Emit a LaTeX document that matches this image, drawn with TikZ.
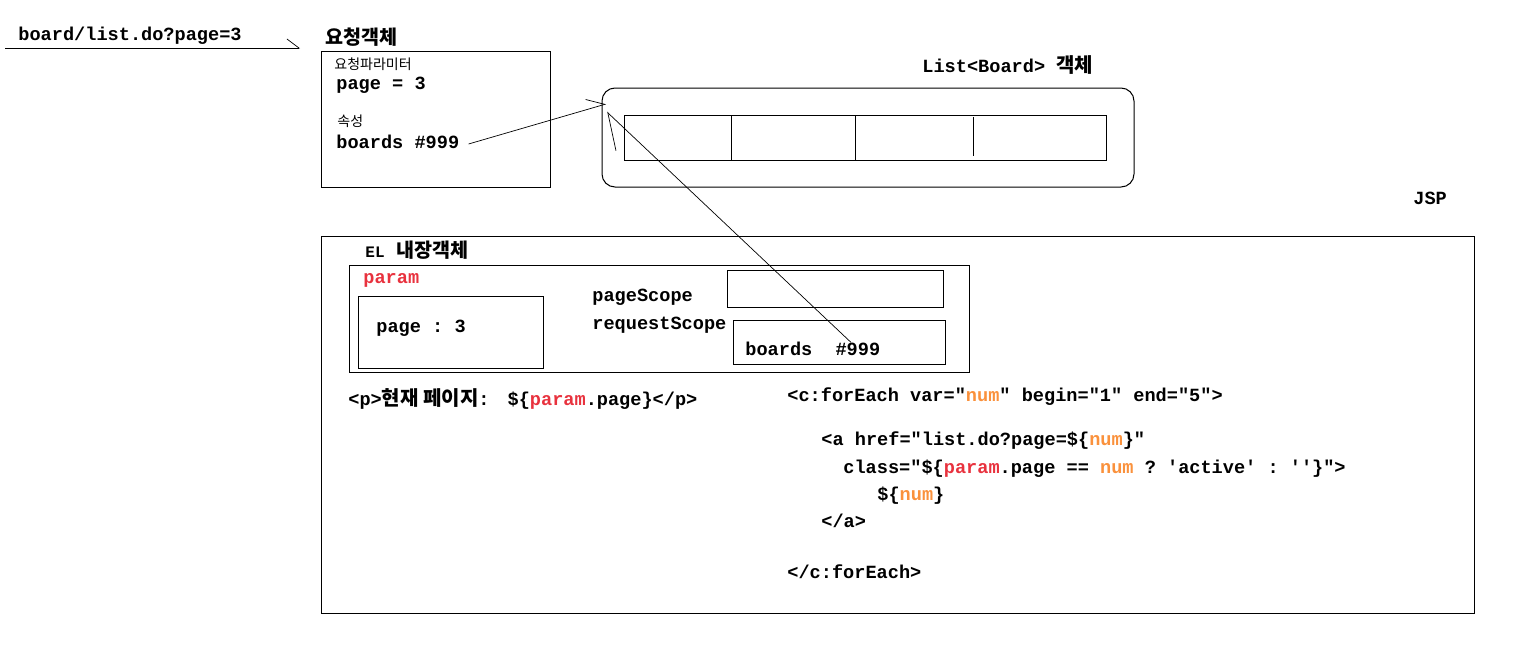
\documentclass[tikz,border=0pt]{standalone}
\usepackage{fontspec}
\setmonofont{Liberation Mono}
\newfontfamily\kor{Noto Sans CJK KR}
\usetikzlibrary{positioning,arrows.meta}

\definecolor{paramrojo}{RGB}{232,50,62}
\definecolor{numnaranja}{RGB}{250,145,60}
\newcommand{\prm}{\textcolor{paramrojo}{param}}
\newcommand{\nm}{\textcolor{numnaranja}{num}}

\begin{document}
\begin{tikzpicture}[
    x=0.5pt, y=-0.5pt,
    codigo/.style={
        font=\ttfamily\bfseries\fontsize{9.3}{11}\selectfont,
        inner sep=0pt,
        anchor=west,
        text height=6.5pt,
        text depth=1.8pt
    },
    titulo/.style={
        font=\kor\bfseries\fontsize{9.8}{11}\selectfont,
        inner sep=0pt,
        anchor=west
    },
    nota/.style={
        font=\kor\fontsize{7}{8}\selectfont,
        inner sep=0pt,
        anchor=west
    },
    marco/.style={draw, line width=0.5pt},
    flecha/.style n args={2}{
        line width=0.35pt,
        -{Straight Barb[harpoon, length=#1, width=#2]}
    }
]
\useasboundingbox (0,0) rectangle (1538,648);

% peticion
\node[codigo] (url) at (18,36) {board/list.do?page=3};
\coordinate (urlL) at (5,48);
\coordinate (urlR) at (300,48);
\draw[flecha={6pt}{9pt}] (urlL) -- (urlR);

\node[titulo] (reqtitulo) at (325,37) {요청객체};
\draw[marco] (321,51) rectangle (550,187);
\node[nota] (reqparam) at (334,64) {요청파라미터};
\node[codigo] (reqpage) at (336,85) {page = 3};
\node[nota] (reqattr) at (337,121) {속성};
\node[codigo] (reqboards) at (336,144) {boards \#999};

% lista
\node[codigo] (lista) at (922,68) {List<Board> {\kor\fontsize{10}{11}\selectfont 객체}};
\draw[marco, rounded corners=6.5pt] (602,88) rectangle (1134,187);
\draw[marco] (624,115) rectangle (1106,160);
\draw[marco] (731,115) -- (731,160);
\draw[marco] (855,115) -- (855,160);
\draw[marco] (973,117) -- (973,156);

% jsp
\node[codigo] (jsp) at (1413,200) {JSP};
\draw[marco] (321,236) rectangle (1474,613);
\node[titulo] (eltitulo) at (365,250)
    {{\ttfamily\fontsize{8}{9}\selectfont EL}\hspace{6pt}내장객체};
\draw[marco] (349,265) rectangle (969,372);
\node[codigo, text=paramrojo] (param) at (363,279) {param};
\draw[marco] (358,296) rectangle (543,368);
\node[codigo] (parampage) at (376,328) {page : 3};
\node[codigo] (pagescope) at (592,297) {pageScope};
\node[codigo] (reqscope) at (592,325) {requestScope};
\draw[marco] (727,270) rectangle (943,307);
\draw[marco] (733,320) rectangle (945,364);
\node[codigo] (rqboards) at (745,351) {boards};
\node[codigo, right=11.2pt of rqboards] (rqnum) {\#999};

\node[codigo] (linea) at (348,401)
    {<p>{\kor\fontsize{10}{11}\selectfont 현재 페이지}:\hspace{9pt}\$\{\prm.page\}</p>};

\node[codigo] (foreach) at (787,397) {<c:forEach var="\nm" begin="1" end="5">};
\node[codigo] (ahref) at (821,441) {<a href="list.do?page=\$\{\nm\}"};
\node[codigo] (aclass) at (843,469) {class="\$\{\prm.page == \nm{} ? 'active' : ''\}">};
\node[codigo] (anum) at (877,496) {\$\{\nm\}};
\node[codigo] (aend) at (821,523) {</a>};
\node[codigo] (foreachend) at (787,574) {</c:forEach>};

% referencias
\coordinate (puntaA) at (606,104);
\coordinate (puntaB) at (607,112);
\draw[flecha={8.5pt}{10pt}] ([xshift=4.5pt]reqboards.east) -- (puntaA);
\draw[flecha={16pt}{22pt}] ([xshift=-3.5pt]rqnum.north) -- (puntaB);

\end{tikzpicture}
\end{document}
